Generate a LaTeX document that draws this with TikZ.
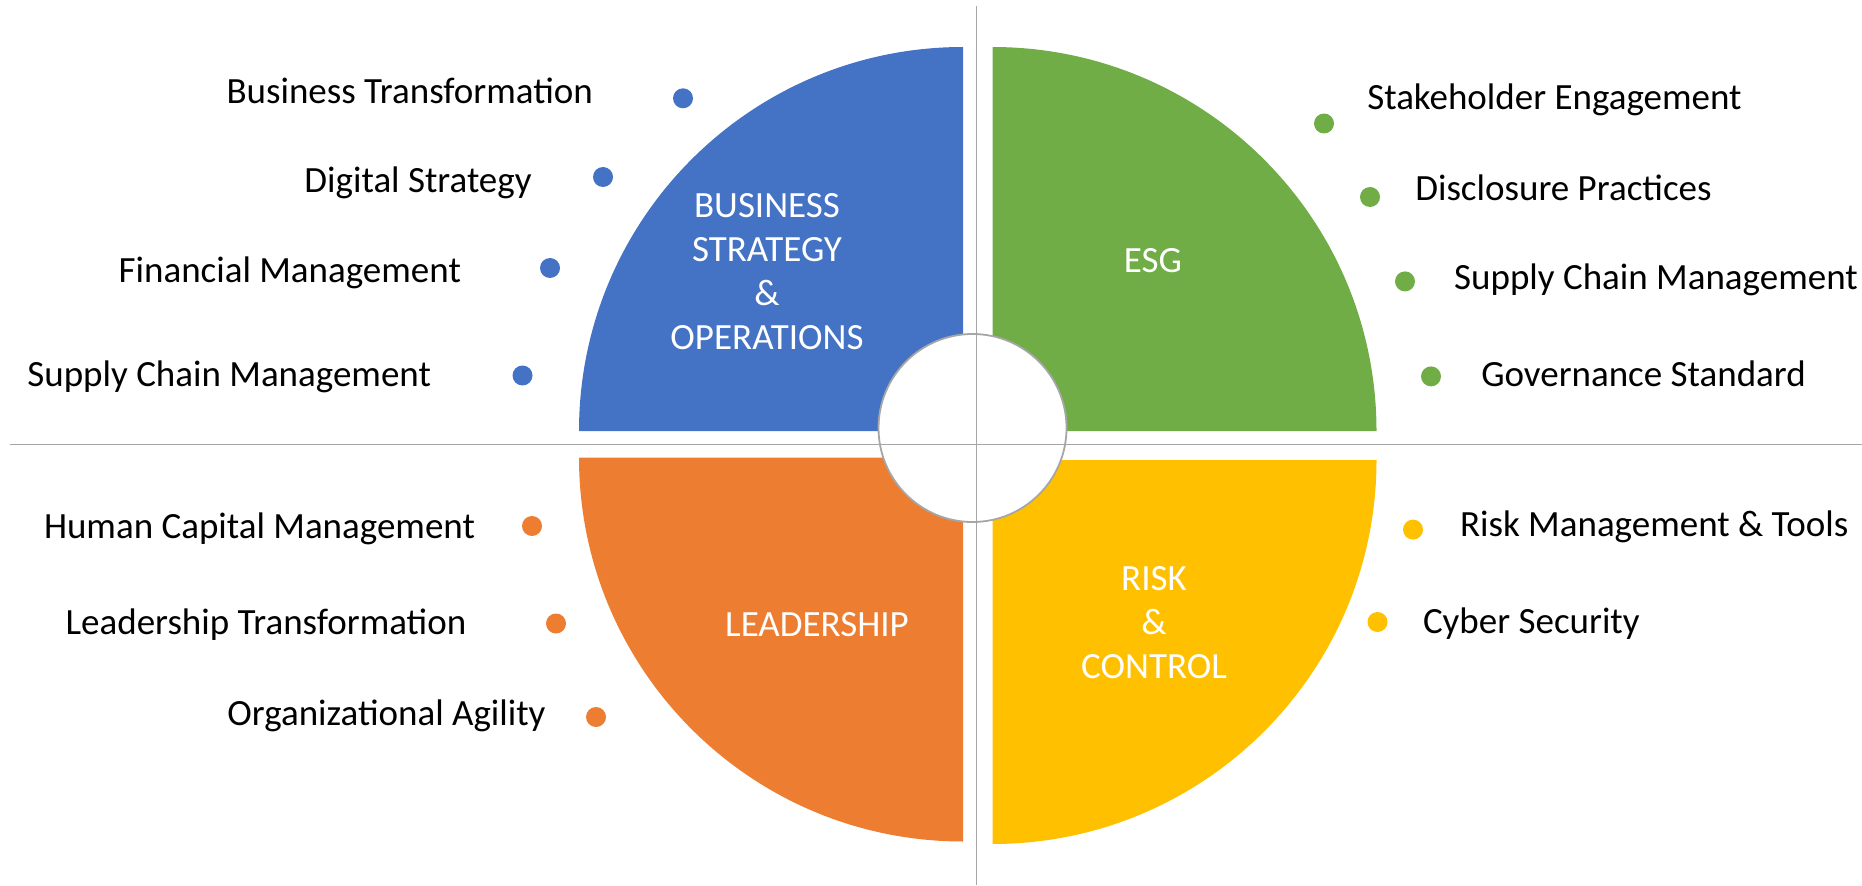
\documentclass[tikz,border=0pt]{standalone}
\usepackage{fontspec}
\setmainfont{Carlito}
\usetikzlibrary{positioning}

\definecolor{bsoblue}{HTML}{4472C4}
\definecolor{esggreen}{HTML}{70AD47}
\definecolor{leadorange}{HTML}{ED7D31}
\definecolor{riskyellow}{HTML}{FFC000}
\definecolor{axisgray}{HTML}{A6A6A6}

\begin{document}
\begin{tikzpicture}[x=0.5pt,y=0.5pt]
\tikzset{font=\fontsize{18.5}{22}\selectfont}
\tikzset{item/.style={anchor=base, inner sep=0pt, text=black}}
\tikzset{quadlabel/.style={text=white, align=center, inner sep=0pt}}
\tikzset{bullet/.style={circle, inner sep=0pt, minimum size=10pt, fill=#1}}
\tikzset{hub/.style={circle, minimum size=94pt, inner sep=0pt, fill=white, draw=axisgray, line width=0.9pt}}
\tikzset{axis/.style={draw=axisgray, line width=0.9pt}}
\useasboundingbox (0,0) rectangle (1862,885);

\fill[bsoblue] (963,454) -- ++(0,384) arc[start angle=90, end angle=180, radius=192pt] -- cycle;
\fill[esggreen] (992.5,454) -- ++(384,0) arc[start angle=0, end angle=90, radius=192pt] -- cycle;
\fill[leadorange] (963,427.5) -- ++(-384,0) arc[start angle=180, end angle=270, radius=192pt] -- cycle;
\fill[riskyellow] (992.5,425) -- ++(0,-384) arc[start angle=270, end angle=360, radius=192pt] -- cycle;

\node[hub] (hub) at (972.5,457) {};
\coordinate (vtop) at (976.5,879);
\coordinate (vbot) at (976.5,0);
\coordinate (hleft) at (9.5,440.5);
\coordinate (hright) at (1862,440.5);
\draw[axis] (vtop) -- (vbot);
\draw[axis, line width=0.6pt] (hleft) -- (hright);

\node[quadlabel] (bso) at (767,613.5) {BUSINESS\\STRATEGY\\\&\\OPERATIONS};
\node[quadlabel, anchor=base] (esg) at (1153,612.7) {ESG};
\node[quadlabel, anchor=base] (lead) at (817,249) {LEADERSHIP};
\node[quadlabel] (risk) at (1154,262.3) {RISK\\\&\\CONTROL};

\node[bullet=bsoblue] (b1) at (683,786.7) {};
\node[bullet=bsoblue] (b2) at (603,708) {};
\node[bullet=bsoblue] (b3) at (550,617) {};
\node[bullet=bsoblue] (b4) at (522.5,509.5) {};
\node[item] (t1) at (409.7,781.7) {Business Transformation};
\node[item] (t2) at (418,692.6) {Digital Strategy};
\node[item] (t3) at (289.8,602.4) {Financial Management};
\node[item] (t4) at (229.2,499) {Supply Chain Management};

\node[bullet=leadorange] (o1) at (532,359) {};
\node[bullet=leadorange] (o2) at (556,261.5) {};
\node[bullet=leadorange] (o3) at (596,168) {};
\node[item] (l1) at (259.5,347) {Human Capital Management};
\node[item] (l2) at (266,251) {Leadership Transformation};
\node[item] (l3) at (386.5,159.4) {Organizational Agility};

\node[bullet=esggreen] (g1) at (1324,761.5) {};
\node[bullet=esggreen] (g2) at (1370,688) {};
\node[bullet=esggreen] (g3) at (1405,603.6) {};
\node[bullet=esggreen] (g4) at (1431,508.6) {};
\node[item] (e1) at (1554.4,775.7) {Stakeholder Engagement};
\node[item] (e2) at (1563.4,684.3) {Disclosure Practices};
\node[item] (e3) at (1656,595.2) {Supply Chain Management};
\node[item] (e4) at (1643.5,499) {Governance Standard};

\node[bullet=riskyellow] (y1) at (1413,355.4) {};
\node[bullet=riskyellow] (y2) at (1377.5,263) {};
\node[item] (r1) at (1654.2,348.2) {Risk Management \& Tools};
\node[item] (r2) at (1531.3,252) {Cyber Security};
\end{tikzpicture}
\end{document}
